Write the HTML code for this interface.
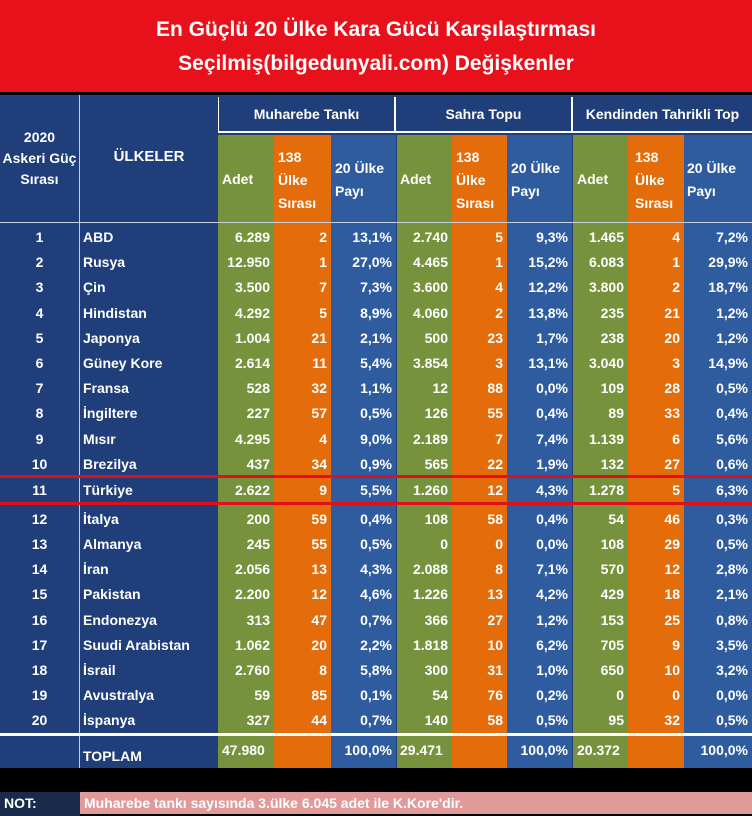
<!DOCTYPE html>
<html><head><meta charset="utf-8"><style>
*{margin:0;padding:0;box-sizing:border-box}
body{width:752px;height:816px;background:#000;position:relative;overflow:hidden;font-family:"Liberation Sans",sans-serif;font-weight:bold;color:#fff}
.abs{position:absolute}
.title{left:0;top:0;width:752px;height:92px;background:#e8101a;text-align:center;font-size:21px;line-height:34px;padding-top:13px}
.col{position:absolute;top:95px;height:673px}
.r{position:absolute;left:0;width:752px;height:25px;font-size:14px;line-height:25px}
.r span{position:absolute;top:0;height:25px;white-space:nowrap}
.c1{left:0;width:79px;text-align:center}
.c2{left:83px}
.n{text-align:right}
.h{font-size:14px;line-height:17px}
</style></head><body>
<div class="abs title">En Güçlü 20 Ülke Kara Gücü Karşılaştırması<br>Seçilmiş(bilgedunyali.com) Değişkenler</div>
<div class="col" style="left:0;width:79px;background:#1f3e7a"></div>
<div class="col" style="left:80px;width:138px;background:#1f3e7a"></div>
<div class="col" style="left:218px;width:534px;background:#1f3e7a"></div>
<div class="col" style="top:135px;height:633px;left:218px;width:56px;background:#76923c"></div>
<div class="col" style="top:135px;height:633px;left:274px;width:57px;background:#e46c0a"></div>
<div class="col" style="top:135px;height:633px;left:331px;width:65px;background:#2e5c9e"></div>
<div class="col" style="top:135px;height:633px;left:397px;width:55px;background:#76923c"></div>
<div class="col" style="top:135px;height:633px;left:452px;width:55px;background:#e46c0a"></div>
<div class="col" style="top:135px;height:633px;left:507px;width:65px;background:#2e5c9e"></div>
<div class="col" style="top:135px;height:633px;left:573px;width:55px;background:#76923c"></div>
<div class="col" style="top:135px;height:633px;left:628px;width:56px;background:#e46c0a"></div>
<div class="col" style="top:135px;height:633px;left:684px;width:68px;background:#2e5c9e"></div>
<div class="abs" style="left:218px;top:97px;width:178px;height:36px;border:2px solid #fff;border-top:none;border-left:1px solid #fff;text-align:center;font-size:14px;line-height:34px">Muharebe Tankı</div>
<div class="abs" style="left:396px;top:97px;width:177px;height:36px;border:2px solid #fff;border-top:none;border-left:none;text-align:center;font-size:14px;line-height:34px">Sahra Topu</div>
<div class="abs" style="left:573px;top:97px;width:179px;height:36px;border-bottom:2px solid #fff;text-align:center;font-size:14px;line-height:34px">Kendinden Tahrikli Top</div>
<div class="abs" style="left:0;top:222px;width:752px;height:1px;background:#c8d0e0"></div>
<div class="abs" style="left:79px;top:95px;width:1px;height:673px;background:#c8d0e0"></div>
<div class="abs h" style="left:0;top:127px;width:79px;text-align:center;line-height:21px">2020<br>Askeri Güç<br>Sırası</div>
<div class="abs" style="left:80px;top:148px;width:138px;text-align:center;font-size:15px">ÜLKELER</div>
<div class="abs h" style="left:222px;top:171px">Adet</div>
<div class="abs h" style="left:278px;top:146px;line-height:23px">138<br>Ülke<br>Sırası</div>
<div class="abs h" style="left:335px;top:157px;line-height:23px">20 Ülke<br>Payı</div>
<div class="abs h" style="left:400px;top:171px">Adet</div>
<div class="abs h" style="left:456px;top:146px;line-height:23px">138<br>Ülke<br>Sırası</div>
<div class="abs h" style="left:511px;top:157px;line-height:23px">20 Ülke<br>Payı</div>
<div class="abs h" style="left:577px;top:171px">Adet</div>
<div class="abs h" style="left:635px;top:146px;line-height:23px">138<br>Ülke<br>Sırası</div>
<div class="abs h" style="left:687px;top:157px;line-height:23px">20 Ülke<br>Payı</div>

<div class="r" style="top:225px"><span class="c1">1</span><span class="c2">ABD</span><span class="n" style="right:482px">6.289</span><span class="n" style="right:425px">2</span><span class="n" style="right:360px">13,1%</span><span class="n" style="right:304px">2.740</span><span class="n" style="right:249px">5</span><span class="n" style="right:184px">9,3%</span><span class="n" style="right:128px">1.465</span><span class="n" style="right:72px">4</span><span class="n" style="right:4px">7,2%</span></div>
<div class="r" style="top:250px"><span class="c1">2</span><span class="c2">Rusya</span><span class="n" style="right:482px">12.950</span><span class="n" style="right:425px">1</span><span class="n" style="right:360px">27,0%</span><span class="n" style="right:304px">4.465</span><span class="n" style="right:249px">1</span><span class="n" style="right:184px">15,2%</span><span class="n" style="right:128px">6.083</span><span class="n" style="right:72px">1</span><span class="n" style="right:4px">29,9%</span></div>
<div class="r" style="top:275px"><span class="c1">3</span><span class="c2">Çin</span><span class="n" style="right:482px">3.500</span><span class="n" style="right:425px">7</span><span class="n" style="right:360px">7,3%</span><span class="n" style="right:304px">3.600</span><span class="n" style="right:249px">4</span><span class="n" style="right:184px">12,2%</span><span class="n" style="right:128px">3.800</span><span class="n" style="right:72px">2</span><span class="n" style="right:4px">18,7%</span></div>
<div class="r" style="top:301px"><span class="c1">4</span><span class="c2">Hindistan</span><span class="n" style="right:482px">4.292</span><span class="n" style="right:425px">5</span><span class="n" style="right:360px">8,9%</span><span class="n" style="right:304px">4.060</span><span class="n" style="right:249px">2</span><span class="n" style="right:184px">13,8%</span><span class="n" style="right:128px">235</span><span class="n" style="right:72px">21</span><span class="n" style="right:4px">1,2%</span></div>
<div class="r" style="top:326px"><span class="c1">5</span><span class="c2">Japonya</span><span class="n" style="right:482px">1.004</span><span class="n" style="right:425px">21</span><span class="n" style="right:360px">2,1%</span><span class="n" style="right:304px">500</span><span class="n" style="right:249px">23</span><span class="n" style="right:184px">1,7%</span><span class="n" style="right:128px">238</span><span class="n" style="right:72px">20</span><span class="n" style="right:4px">1,2%</span></div>
<div class="r" style="top:351px"><span class="c1">6</span><span class="c2">Güney Kore</span><span class="n" style="right:482px">2.614</span><span class="n" style="right:425px">11</span><span class="n" style="right:360px">5,4%</span><span class="n" style="right:304px">3.854</span><span class="n" style="right:249px">3</span><span class="n" style="right:184px">13,1%</span><span class="n" style="right:128px">3.040</span><span class="n" style="right:72px">3</span><span class="n" style="right:4px">14,9%</span></div>
<div class="r" style="top:376px"><span class="c1">7</span><span class="c2">Fransa</span><span class="n" style="right:482px">528</span><span class="n" style="right:425px">32</span><span class="n" style="right:360px">1,1%</span><span class="n" style="right:304px">12</span><span class="n" style="right:249px">88</span><span class="n" style="right:184px">0,0%</span><span class="n" style="right:128px">109</span><span class="n" style="right:72px">28</span><span class="n" style="right:4px">0,5%</span></div>
<div class="r" style="top:401px"><span class="c1">8</span><span class="c2">İngiltere</span><span class="n" style="right:482px">227</span><span class="n" style="right:425px">57</span><span class="n" style="right:360px">0,5%</span><span class="n" style="right:304px">126</span><span class="n" style="right:249px">55</span><span class="n" style="right:184px">0,4%</span><span class="n" style="right:128px">89</span><span class="n" style="right:72px">33</span><span class="n" style="right:4px">0,4%</span></div>
<div class="r" style="top:427px"><span class="c1">9</span><span class="c2">Mısır</span><span class="n" style="right:482px">4.295</span><span class="n" style="right:425px">4</span><span class="n" style="right:360px">9,0%</span><span class="n" style="right:304px">2.189</span><span class="n" style="right:249px">7</span><span class="n" style="right:184px">7,4%</span><span class="n" style="right:128px">1.139</span><span class="n" style="right:72px">6</span><span class="n" style="right:4px">5,6%</span></div>
<div class="r" style="top:452px"><span class="c1">10</span><span class="c2">Brezilya</span><span class="n" style="right:482px">437</span><span class="n" style="right:425px">34</span><span class="n" style="right:360px">0,9%</span><span class="n" style="right:304px">565</span><span class="n" style="right:249px">22</span><span class="n" style="right:184px">1,9%</span><span class="n" style="right:128px">132</span><span class="n" style="right:72px">27</span><span class="n" style="right:4px">0,6%</span></div>
<div class="abs" style="left:0;top:475px;width:752px;height:3px;background:#e0101a"></div>
<div class="r" style="top:478px"><span class="c1">11</span><span class="c2">Türkiye</span><span class="n" style="right:482px">2.622</span><span class="n" style="right:425px">9</span><span class="n" style="right:360px">5,5%</span><span class="n" style="right:304px">1.260</span><span class="n" style="right:249px">12</span><span class="n" style="right:184px">4,3%</span><span class="n" style="right:128px">1.278</span><span class="n" style="right:72px">5</span><span class="n" style="right:4px">6,3%</span></div>
<div class="abs" style="left:0;top:502px;width:752px;height:3px;background:#e0101a"></div>
<div class="r" style="top:507px"><span class="c1">12</span><span class="c2">İtalya</span><span class="n" style="right:482px">200</span><span class="n" style="right:425px">59</span><span class="n" style="right:360px">0,4%</span><span class="n" style="right:304px">108</span><span class="n" style="right:249px">58</span><span class="n" style="right:184px">0,4%</span><span class="n" style="right:128px">54</span><span class="n" style="right:72px">46</span><span class="n" style="right:4px">0,3%</span></div>
<div class="r" style="top:532px"><span class="c1">13</span><span class="c2">Almanya</span><span class="n" style="right:482px">245</span><span class="n" style="right:425px">55</span><span class="n" style="right:360px">0,5%</span><span class="n" style="right:304px">0</span><span class="n" style="right:249px">0</span><span class="n" style="right:184px">0,0%</span><span class="n" style="right:128px">108</span><span class="n" style="right:72px">29</span><span class="n" style="right:4px">0,5%</span></div>
<div class="r" style="top:557px"><span class="c1">14</span><span class="c2">İran</span><span class="n" style="right:482px">2.056</span><span class="n" style="right:425px">13</span><span class="n" style="right:360px">4,3%</span><span class="n" style="right:304px">2.088</span><span class="n" style="right:249px">8</span><span class="n" style="right:184px">7,1%</span><span class="n" style="right:128px">570</span><span class="n" style="right:72px">12</span><span class="n" style="right:4px">2,8%</span></div>
<div class="r" style="top:582px"><span class="c1">15</span><span class="c2">Pakistan</span><span class="n" style="right:482px">2.200</span><span class="n" style="right:425px">12</span><span class="n" style="right:360px">4,6%</span><span class="n" style="right:304px">1.226</span><span class="n" style="right:249px">13</span><span class="n" style="right:184px">4,2%</span><span class="n" style="right:128px">429</span><span class="n" style="right:72px">18</span><span class="n" style="right:4px">2,1%</span></div>
<div class="r" style="top:608px"><span class="c1">16</span><span class="c2">Endonezya</span><span class="n" style="right:482px">313</span><span class="n" style="right:425px">47</span><span class="n" style="right:360px">0,7%</span><span class="n" style="right:304px">366</span><span class="n" style="right:249px">27</span><span class="n" style="right:184px">1,2%</span><span class="n" style="right:128px">153</span><span class="n" style="right:72px">25</span><span class="n" style="right:4px">0,8%</span></div>
<div class="r" style="top:633px"><span class="c1">17</span><span class="c2">Suudi Arabistan</span><span class="n" style="right:482px">1.062</span><span class="n" style="right:425px">20</span><span class="n" style="right:360px">2,2%</span><span class="n" style="right:304px">1.818</span><span class="n" style="right:249px">10</span><span class="n" style="right:184px">6,2%</span><span class="n" style="right:128px">705</span><span class="n" style="right:72px">9</span><span class="n" style="right:4px">3,5%</span></div>
<div class="r" style="top:658px"><span class="c1">18</span><span class="c2">İsrail</span><span class="n" style="right:482px">2.760</span><span class="n" style="right:425px">8</span><span class="n" style="right:360px">5,8%</span><span class="n" style="right:304px">300</span><span class="n" style="right:249px">31</span><span class="n" style="right:184px">1,0%</span><span class="n" style="right:128px">650</span><span class="n" style="right:72px">10</span><span class="n" style="right:4px">3,2%</span></div>
<div class="r" style="top:683px"><span class="c1">19</span><span class="c2">Avustralya</span><span class="n" style="right:482px">59</span><span class="n" style="right:425px">85</span><span class="n" style="right:360px">0,1%</span><span class="n" style="right:304px">54</span><span class="n" style="right:249px">76</span><span class="n" style="right:184px">0,2%</span><span class="n" style="right:128px">0</span><span class="n" style="right:72px">0</span><span class="n" style="right:4px">0,0%</span></div>
<div class="r" style="top:708px"><span class="c1">20</span><span class="c2">İspanya</span><span class="n" style="right:482px">327</span><span class="n" style="right:425px">44</span><span class="n" style="right:360px">0,7%</span><span class="n" style="right:304px">140</span><span class="n" style="right:249px">58</span><span class="n" style="right:184px">0,5%</span><span class="n" style="right:128px">95</span><span class="n" style="right:72px">32</span><span class="n" style="right:4px">0,5%</span></div>
<div class="abs" style="left:0;top:733px;width:752px;height:3px;background:#fff"></div>
<div class="r" style="top:738px"><span class="c2" style="top:6px">TOPLAM</span><span style="left:222px">47.980</span><span class="n" style="right:360px">100,0%</span><span style="left:400px">29.471</span><span class="n" style="right:184px">100,0%</span><span style="left:577px">20.372</span><span class="n" style="right:4px">100,0%</span></div>
<div class="abs" style="left:0;top:768px;width:752px;height:24px;background:#000"></div>
<div class="abs" style="left:0;top:792px;width:80px;height:24px;background:#1a2a4a;font-size:14px;line-height:22px;padding-left:4px">NOT:</div>
<div class="abs" style="left:80px;top:792px;width:672px;height:22px;background:#e09a9a;font-size:14px;line-height:22px;padding-left:4px">Muharebe tankı sayısında 3.ülke 6.045 adet ile K.Kore'dir.</div>
</body></html>
